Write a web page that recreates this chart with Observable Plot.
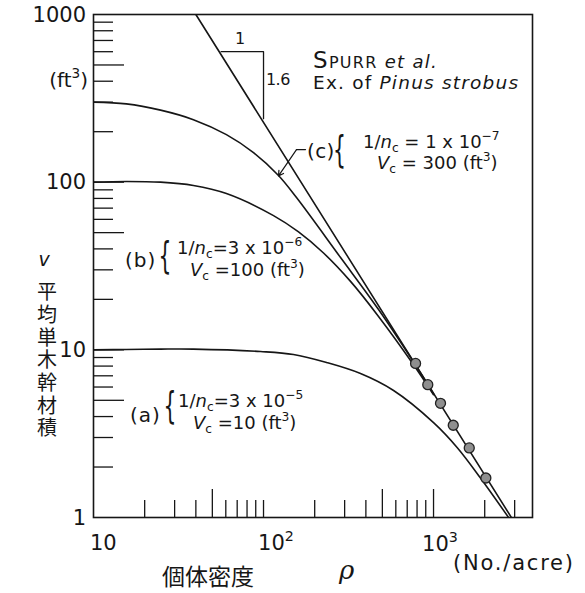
<!DOCTYPE html>
<html><head><meta charset="utf-8">
<script src="https://cdn.jsdelivr.net/npm/d3@7"></script>
<script src="https://cdn.jsdelivr.net/npm/@observablehq/plot@0.6"></script>
<style>
body{margin:0;background:#fff;}
#chart svg{display:block;background:#fff;}
</style></head><body><div id="chart"></div>
<script>
// ---- data (rho = No./acre, v = ft^3) ----
const curveA_rho = [10, 15.6, 24.8, 38.7, 96, 150, 235, 372, 582, 1000, 1384, 1888, 2762];
const curveA_v   = [10.0, 10.05, 10.1, 10.1, 9.77, 9.38, 8.40, 7.22, 5.72, 3.68, 2.60, 1.72, 1.0];
const curveB_rho = [10, 15.6, 24.8, 38.7, 60.5, 114.5, 160.7, 225.4, 324.9, 474.8, 762.7, 1000];
const curveB_v   = [100, 101, 100, 95.5, 85.5, 63.2, 50.5, 37.8, 25.6, 15.82, 8.15, 5.40];
const curveC_rho = [10, 15.6, 24.8, 38.7, 60.5, 87.3, 122.5, 156.3, 283.9, 474.8, 762.7, 1000];
const curveC_v   = [300, 293, 269, 236, 192, 150, 109.5, 80.9, 35.5, 17.39, 8.46, 5.47];
const line_rho   = [40, 2870];
const line_v     = [1000, 1];
const obs_rho    = [784, 925, 1099, 1306, 1622, 2031];
const obs_v      = [8.3, 6.2, 4.8, 3.55, 2.6, 1.72];
const tri_rho    = [56.3, 100, 100];
const tri_v      = [600, 600, 239];
const xTickMinor = [20,30,40,60,70,80,90,100,200,300,400,600,700,800,900,2000,3000];
const xTickMajor = [50,500,1000];
const yTickMinor = [2,3,4,6,7,8,9,20,30,40,60,70,80,90,200,300,400,600,700,800,900];
const yTickMajor = [5,10,50,100,500];
const yTickLabels = [1,10,100,1000];

const W = 585, H = 593, mL = 93, mR = 53, mT = 14, mB = 76;
const xMax = 3820;
const pxX = (W - mL - mR) / Math.log10(xMax / 10);
const pxY = (H - mT - mB) / 3;

const zip = (a, b) => a.map((r, i) => ({rho: r, v: b[i]}));
const A = zip(curveA_rho, curveA_v), B = zip(curveB_rho, curveB_v), C = zip(curveC_rho, curveC_v);
const L = zip(line_rho, line_v), O = zip(obs_rho, obs_v), T = zip(tri_rho, tri_v);
const ink = "#161616";

const plot = Plot.plot({
  width: W, height: H,
  marginLeft: mL, marginRight: mR, marginTop: mT, marginBottom: mB,
  style: {fontFamily: "DejaVu Sans", background: "#fff"},
  x: {type: "log", domain: [10, xMax], axis: null},
  y: {type: "log", domain: [1, 1000], axis: null},
  marks: [
    Plot.ruleX(xTickMinor, {x: d => d, y1: () => 1, y2: () => 10 ** (17 / pxY), stroke: ink, strokeWidth: 1.3}),
    Plot.ruleX(xTickMajor, {x: d => d, y1: () => 1, y2: () => 10 ** (28 / pxY), stroke: ink, strokeWidth: 1.3}),
    Plot.ruleY(yTickMinor, {y: d => d, x1: () => 10, x2: () => 10 * 10 ** (20 / pxX), stroke: ink, strokeWidth: 1.3}),
    Plot.ruleY(yTickMajor, {y: d => d, x1: () => 10, x2: () => 10 * 10 ** (31 / pxX), stroke: ink, strokeWidth: 1.3}),
    Plot.frame({stroke: ink, strokeWidth: 1.6}),
    Plot.line(L, {x: "rho", y: "v", stroke: ink, strokeWidth: 1.6, clip: true}),
    Plot.line(A, {x: "rho", y: "v", stroke: ink, strokeWidth: 1.6, curve: "catmull-rom", clip: true}),
    Plot.line(B, {x: "rho", y: "v", stroke: ink, strokeWidth: 1.6, curve: "catmull-rom", clip: true}),
    Plot.line(C, {x: "rho", y: "v", stroke: ink, strokeWidth: 1.6, curve: "catmull-rom", clip: true}),
    Plot.line(T, {x: "rho", y: "v", stroke: ink, strokeWidth: 1.3}),
    Plot.line([{rho: 176.6, v: 156.5}, {rho: 156.3, v: 156.5}], {x: "rho", y: "v", stroke: ink, strokeWidth: 1.2}),
    Plot.arrow([{x1: 156.3, y1: 156.5, x2: 122.5, y2: 109}], {x1: "x1", y1: "y1", x2: "x2", y2: "y2", stroke: ink, strokeWidth: 1.2, headLength: 7}),
    Plot.dot(O, {x: "rho", y: "v", r: 5, fill: "#8f8f8f", stroke: "#222", strokeWidth: 1.3})
  ]
});
document.getElementById("chart").appendChild(plot);

const sx = plot.scale("x"), sy = plot.scale("y");
const svg = d3.select(plot);
const g = svg.append("g").attr("fill", ink).attr("font-family", "DejaVu Sans");

// rich text: parts are strings or [string, options]; options.abs = [x, y] starts a new line
function rich(x, y, parts, base = 18, opts = {}) {
  const t = g.append("text").attr("x", x).attr("y", y).attr("font-size", base)
    .attr("text-anchor", opts.anchor || "start");
  if (opts.ls) t.attr("letter-spacing", opts.ls);
  if (opts.family) t.attr("font-family", opts.family);
  let shift = 0;
  for (const p of parts) {
    const [s, o] = Array.isArray(p) ? p : [p, {}];
    const ts = t.append("tspan").text(s);
    if (o.abs) { ts.attr("x", o.abs[0]).attr("y", o.abs[1]); shift = 0; }
    const target = o.sup ? -base * 0.45 : o.sub ? base * 0.22 : 0;
    if (target - shift !== 0) ts.attr("dy", target - shift);
    shift = target;
    if (o.i) ts.attr("font-style", "italic");
    if (o.size) ts.attr("font-size", o.size);
    else if (o.sup || o.sub) ts.attr("font-size", base * 0.68);
  }
  return t;
}
const P = (rho, v) => [sx.apply(rho), sy.apply(v)];
function brace(rho, v) {
  const [x, y] = P(rho, v);
  g.append("text").attr("text-anchor", "middle").attr("transform", `translate(${x},${y}) scale(0.55,1)`)
    .attr("font-size", 37).attr("font-family", "DejaVu Sans").text("{");
}

// y tick labels
for (const v of yTickLabels) rich(sx.apply(10) - 7, sy.apply(v) + 7.5, [String(v)], 21, {anchor: "end"});
// x tick labels
rich(sx.apply(10) - 3, H - 43, ["10"], 21);
rich(sx.apply(100) - 5, H - 43, ["10", ["2", {sup: 1}]], 21);
rich(sx.apply(1000) - 11, H - 42, ["10", ["3", {sup: 1}]], 21);
rich(453, H - 23, ["(No./acre)"], 21, {ls: 1.8});
// axis titles
rich(208, H - 8, ["個体密度"], 23, {anchor: "middle", family: "Noto Sans CJK JP"});
rich(339, H - 14, [["ρ", {i: 1}]], 26, {family: "DejaVu Serif"});
rich(88, 87, ["(ft", ["3", {sup: 1}], ")"], 20, {anchor: "end"});
rich(44, 266, [["v", {i: 1}]], 19, {anchor: "middle"});
g.append("text").attr("x", 47).attr("y", 361)
  .attr("text-anchor", "middle")
  .attr("font-family", "Noto Sans CJK JP").attr("font-size", 20)
  .attr("letter-spacing", 2.7).style("writing-mode", "vertical-rl")
  .text("平均単木幹材積");

// annotations (anchored in data space)
let p;
p = P(196.8, 475.8); rich(p[0], p[1], [["S", {size: 23}], ["PURR", {size: 16}], [" et al.", {i: 1}]], 18, {ls: 1.3});
p = P(196.8, 356.6); rich(p[0], p[1], ["Ex. of ", ["Pinus strobus", {i: 1}]], 18.5, {ls: 1.2});
p = P(73.2, 661.5); rich(p[0], p[1], ["1"], 16, {anchor: "middle"});
p = P(104, 377); rich(p[0], p[1], ["1.6"], 16, {ls: -0.5});

const groups = [
  {lab: "(c)", labAt: [181.5, 138.3], brAt: [282, 130.9], l1At: [387, 158.6], l2At: [468, 118.9], n: "1", e: "-7", vc: "300", sp1: " = ", sp2: " = ", ls: 0.3},
  {lab: "(b)", labAt: [15.42, 30.96], brAt: [26.5, 30.5], l1At: [31.2, 37.0], l2At: [37.2, 27.36], n: "3", e: "-6", vc: "100", sp1: "=", sp2: " =", ls: 1},
  {lab: "(a)", labAt: [16.5, 3.686], brAt: [28.4, 3.894], l1At: [31.6, 4.529], l2At: [38.7, 3.347], n: "3", e: "-5", vc: "10", sp1: "=", sp2: " =", ls: 1}
];
for (const d of groups) {
  p = P(...d.labAt); rich(p[0], p[1], [d.lab], 20, {ls: d.ls});
  brace(...d.brAt);
  const p1 = P(...d.l1At), p2 = P(...d.l2At);
  rich(p1[0], p1[1], [
    "1/", ["n", {i: 1}], ["c", {sub: 1}], d.sp1 + d.n + " x 10", ["−" + d.e.slice(1), {sup: 1}],
    ["V", {i: 1, abs: p2}], ["c", {sub: 1}], d.sp2 + d.vc + " (ft", ["3", {sup: 1}], ")"
  ], 18);
}
</script></body></html>
